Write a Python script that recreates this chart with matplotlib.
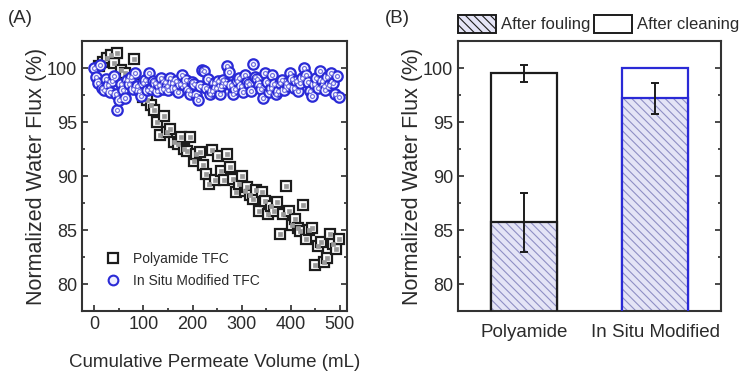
import matplotlib
matplotlib.use("Agg")
import matplotlib.pyplot as plt
from matplotlib import font_manager
from matplotlib.patches import Patch
from matplotlib.lines import Line2D

# --- data ---
poly_x = [10, 18, 25, 33, 40, 47, 55, 62, 80, 90,
          100, 108, 115, 122, 128, 134, 141, 147, 155, 162,
          170, 176, 182, 188, 195, 202, 208, 215, 222, 228,
          234, 240, 246, 252, 258, 264, 270, 276, 282, 288,
          294, 300, 306, 312, 318, 324, 330, 336, 342, 348,
          354, 360, 366, 372, 378, 384, 390, 396, 402, 408,
          414, 420, 426, 432, 438, 444, 450, 456, 462, 468,
          474, 480, 486, 492, 498]
poly_y = [100.2, 100.6, 100.9, 101.2, 100.5, 101.4, 99.8, 99.5, 100.8, 98.5,
          97.3, 97.0, 96.6, 96.1, 95.0, 93.8, 95.6, 94.1, 94.4, 93.2,
          93.0, 93.6, 92.5, 92.3, 93.6, 91.4, 92.0, 92.2, 91.0, 90.2,
          89.3, 92.4, 89.6, 91.9, 90.5, 89.6, 92.0, 90.8, 89.7, 88.5,
          89.3, 90.0, 88.6, 89.0, 88.2, 87.9, 88.7, 86.8, 88.5, 87.7,
          86.5, 87.2, 86.8, 87.6, 84.6, 86.5, 89.1, 86.8, 85.5, 86.0,
          85.2, 84.9, 87.3, 84.2, 85.0, 85.2, 81.8, 83.5, 83.9, 82.0,
          82.4, 84.6, 83.7, 83.2, 84.2]

insitu_x = [0, 4, 7, 11, 15, 19, 23, 27, 31, 35,
            39, 43, 47, 51, 55, 59, 63, 67, 71, 75,
            79, 83, 87, 91, 95, 99, 103, 107, 111, 115,
            119, 123, 127, 131, 135, 139, 143, 147, 151, 155,
            159, 163, 167, 171, 175, 179, 183, 187, 191, 195,
            199, 203, 207, 211, 215, 219, 223, 227, 231, 235,
            239, 243, 247, 251, 255, 259, 263, 267, 271, 275,
            279, 283, 287, 291, 295, 299, 303, 307, 311, 315,
            319, 323, 327, 331, 335, 339, 343, 347, 351, 355,
            359, 363, 367, 371, 375, 379, 383, 387, 391, 395,
            399, 403, 407, 411, 415, 419, 423, 427, 431, 435,
            439, 443, 447, 451, 455, 459, 463, 467, 471, 475,
            479, 483, 487, 491, 495, 499]
insitu_y = [100.0, 99.2, 98.6, 100.3, 98.2, 98.0, 99.0, 98.4, 97.8, 98.8,
            99.3, 97.6, 96.1, 97.0, 98.5, 98.0, 97.2, 98.9, 98.5, 99.2,
            98.1, 99.5, 98.3, 97.9, 97.4, 98.6, 98.9, 98.0, 99.5, 98.1,
            98.8, 98.6, 97.9, 98.4, 99.1, 98.1, 98.7, 98.3, 98.0, 99.1,
            98.6, 98.2, 98.8, 97.8, 98.5, 99.4, 98.4, 98.9, 98.0, 97.6,
            98.7, 98.5, 97.5, 97.0, 98.3, 99.8, 99.7, 98.2, 99.0, 97.6,
            97.9, 98.6, 98.2, 98.8, 97.6, 98.3, 98.9, 98.6, 100.2, 99.6,
            98.4, 97.6, 98.1, 98.8, 99.1, 98.3, 97.8, 99.4, 98.7, 98.5,
            97.9, 100.4, 99.2, 99.0, 98.4, 98.1, 97.2, 99.5, 98.7, 97.8,
            98.2, 99.4, 98.5, 97.6, 97.9, 98.6, 98.9, 98.0, 98.6, 98.3,
            99.5, 99.0, 98.2, 98.8, 97.9, 98.6, 99.1, 100.0, 99.4, 98.7,
            97.9, 97.4, 98.5, 99.1, 98.2, 99.7, 98.8, 98.3, 98.0, 99.2,
            98.4, 99.5, 98.6, 97.6, 99.3, 97.3]

membranes = ["Polyamide", "In Situ Modified"]
after_cleaning = [99.5, 100.0]
cleaning_err = [0.8, 0.0]
after_fouling = [85.7, 97.2]
fouling_err = [2.7, 1.45]

# --- style ---
installed = {f.name for f in font_manager.fontManager.ttflist}
fam = "Liberation Sans Narrow" if "Liberation Sans Narrow" in installed else "Liberation Sans"
plt.rcParams["font.family"] = [fam, "DejaVu Sans"]
txt = "#2b2b2b"
plt.rcParams["text.color"] = txt
plt.rcParams["axes.labelcolor"] = txt
plt.rcParams["xtick.color"] = txt
plt.rcParams["ytick.color"] = txt
plt.rcParams["hatch.linewidth"] = 0.8

blue = "#2a2ad6"
black = "#1c1c1c"

fig = plt.figure(figsize=(7.4, 3.77), dpi=100)
axA = fig.add_axes([0.111, 0.175, 0.358, 0.716])
axB = fig.add_axes([0.619, 0.175, 0.355, 0.716])

for ax in (axA, axB):
    for s in ax.spines.values():
        s.set_linewidth(1.5)
        s.set_color("#333333")
    ax.set_ylim(77.5, 102.5)
    ax.set_yticks([80, 85, 90, 95, 100])
    ax.set_yticks([77.5, 82.5, 87.5, 92.5, 97.5, 102.5], minor=True)
    ax.tick_params(which="both", direction="in", right=True, labelsize=13, width=1.2)
    ax.tick_params(which="major", length=4)
    ax.tick_params(which="minor", length=2.5)
    ax.set_ylabel("Normalized Water Flux (%)", fontsize=15.5, labelpad=0)

# --- panel A ---
axA.plot(poly_x, poly_y, ls="none", marker="s", ms=7, mfc="white", mec=black, mew=1.6)
axA.plot(poly_x, poly_y, ls="none", marker="s", ms=2.2, mfc="#999999", mec="#999999", mew=0.5)
axA.plot(insitu_x, insitu_y, ls="none", marker="o", ms=7.5, mfc="#eeeeff", mec=blue, mew=1.6)
axA.plot(insitu_x, insitu_y, ls="none", marker="o", ms=2.8, mfc="white", mec="#6b6be0", mew=0.8)
axA.set_xlim(-25, 515)
axA.set_xticks([0, 100, 200, 300, 400, 500])
axA.set_xticks([50, 150, 250, 350, 450], minor=True)
axA.set_xlabel("Cumulative Permeate Volume (mL)", fontsize=13.5, labelpad=15)

hA = [Line2D([], [], ls="none", marker="s", ms=7, mfc="white", mec=black, mew=1.6),
      Line2D([], [], ls="none", marker="o", ms=7, mfc="#eeeeff", mec=blue, mew=1.5)]
axA.legend(hA, ["Polyamide TFC", "In Situ Modified TFC"], loc="lower left",
           bbox_to_anchor=(0.015, 0.04), frameon=False, fontsize=10,
           handletextpad=0.5, labelspacing=0.55)
fig.text(0.011, 0.95, "(A)", fontsize=13.5, va="center")

# --- panel B ---
pos = [0, 1]
edges = [black, blue]
axB.bar(pos, after_cleaning, width=0.5, color="white", edgecolor=edges, linewidth=1.6, zorder=1)
axB.bar(pos, after_fouling, width=0.5, color="#e4e4f6", edgecolor="#8f8fc4",
        hatch="\\\\\\\\", linewidth=0, zorder=2)
axB.bar(pos, after_fouling, width=0.5, fill=False, edgecolor=edges, linewidth=1.6, zorder=3)
axB.errorbar(pos[:1], after_cleaning[:1], yerr=cleaning_err[:1], fmt="none",
             ecolor=black, elinewidth=1.4, capsize=3, capthick=1.4, zorder=4)
axB.errorbar(pos, after_fouling, yerr=fouling_err, fmt="none",
             ecolor=black, elinewidth=1.4, capsize=3, capthick=1.4, zorder=4)
axB.set_xlim(-0.5, 1.5)
axB.set_xticks(pos)
axB.set_xticklabels(membranes, fontsize=13.5)
axB.tick_params(axis="x", which="both", length=0, pad=9)

hB = [Patch(facecolor="#e4e4f6", edgecolor=black, hatch="\\\\\\\\", linewidth=1.4),
      Patch(facecolor="white", edgecolor=black, linewidth=1.4)]
axB.legend(hB, ["After fouling", "After cleaning"], loc="lower left",
           bbox_to_anchor=(0.0, 1.03), ncol=2, frameon=False, fontsize=12,
           handlelength=2.3, handleheight=1.3, handletextpad=0.3,
           columnspacing=0.2, borderaxespad=0, borderpad=0)
fig.text(0.52, 0.95, "(B)", fontsize=13.5, va="center")

fig.savefig("out.png", dpi=100)
